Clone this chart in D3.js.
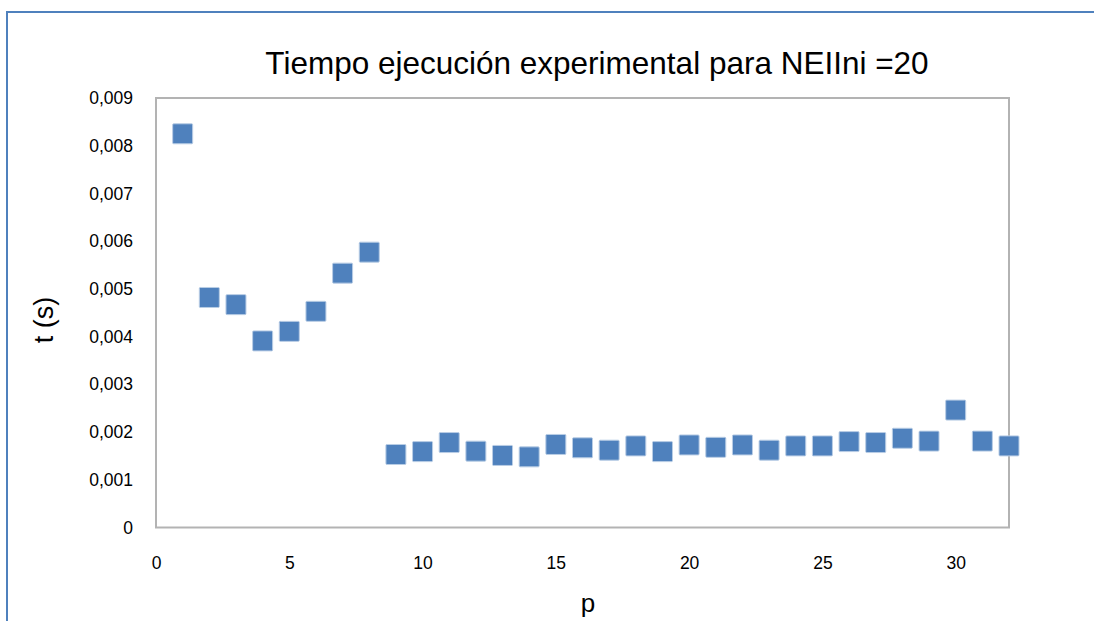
<!DOCTYPE html>
<html>
<head>
<meta charset="utf-8">
<script src="https://cdn.jsdelivr.net/npm/d3@7"></script>
<style>
  html, body { margin: 0; padding: 0; background: #fff; }
  svg { display: block; }
  text { font-family: "Liberation Sans", Arial, sans-serif; fill: #000; }
</style>
</head>
<body>
<svg id="chart" width="1094" height="621"></svg>
<script>
// Execution time per p
const pValues = [1, 2, 3, 4, 5, 6, 7, 8, 9, 10, 11, 12, 13, 14, 15, 16,
                 17, 18, 19, 20, 21, 22, 23, 24, 25, 26, 27, 28, 29, 30, 31, 32];
const tValues = [0.00825, 0.00482, 0.00467, 0.00391, 0.00411, 0.00453, 0.00533, 0.00577,
                 0.00153, 0.00159, 0.00178, 0.00160, 0.00151, 0.00148, 0.00174, 0.00167,
                 0.00162, 0.00171, 0.00159, 0.00173, 0.00168, 0.00173, 0.00162, 0.00171,
                 0.00171, 0.00180, 0.00178, 0.00187, 0.00181, 0.00246, 0.00181, 0.00171];
const xTicks = [0, 5, 10, 15, 20, 25, 30];
const yTicks = [0, 0.001, 0.002, 0.003, 0.004, 0.005, 0.006, 0.007, 0.008, 0.009];

const titleText = "Tiempo ejecución experimental para NEIIni =20";
const xLabel = "p";
const yLabel = "t (s)";

const svg = d3.select("#chart");
const plot = { left: 156, right: 1009, top: 98, bottom: 527.5 };

// Outer chart frame
svg.append("rect")
  .attr("x", 7).attr("y", 12)
  .attr("width", 1200).attr("height", 800)
  .attr("fill", "none")
  .attr("stroke", "#4f81bd")
  .attr("stroke-width", 2);

const x = d3.scaleLinear().domain([0, 32]).range([plot.left, plot.right]);
const y = d3.scaleLinear().domain([0, 0.009]).range([plot.bottom, plot.top]);

const fmt = v => v === 0 ? "0" : d3.format(".3f")(v).replace(".", ",");

// Plot area frame
svg.append("rect")
  .attr("x", plot.left).attr("y", plot.top)
  .attr("width", plot.right - plot.left).attr("height", plot.bottom - plot.top)
  .attr("fill", "#fff")
  .attr("stroke", "#b3b3b3")
  .attr("stroke-width", 2);

// Y axis
const yAxis = d3.axisLeft(y).tickValues(yTicks).tickFormat(fmt).tickSize(0).tickPadding(23);
const gy = svg.append("g").attr("transform", `translate(${plot.left},0)`).call(yAxis);
gy.select(".domain").remove();
gy.attr("font-size", null).attr("font-family", null);
gy.selectAll("text").style("font-size", "17.5px").style("font-family", "Liberation Sans, Arial, sans-serif").attr("fill", "#000");

// X axis
const xAxis = d3.axisBottom(x).tickValues(xTicks).tickFormat(d3.format("d")).tickSize(0).tickPadding(29);
const gx = svg.append("g").attr("transform", `translate(0,${plot.bottom})`).call(xAxis);
gx.select(".domain").remove();
gx.attr("font-size", null).attr("font-family", null);
gx.selectAll("text").style("font-size", "17.5px").style("font-family", "Liberation Sans, Arial, sans-serif").attr("fill", "#000");

// Markers
const size = 20;
svg.append("g").selectAll("rect.pt")
  .data(pValues.map((p, i) => ({ p, t: tValues[i] })))
  .join("rect")
  .attr("class", "pt")
  .attr("x", d => x(d.p) - size / 2)
  .attr("y", d => y(d.t) - size / 2)
  .attr("width", size).attr("height", size)
  .attr("rx", 1)
  .attr("fill", "#4f81bd")
  .attr("stroke", "#b9cde5")
  .attr("stroke-width", 1);

// Title and axis labels
svg.append("text")
  .attr("x", 597).attr("y", 74)
  .attr("text-anchor", "middle")
  .style("font-size", "31.5px")
  .text(titleText);

svg.append("text")
  .attr("x", 588).attr("y", 612)
  .attr("text-anchor", "middle")
  .style("font-size", "26px")
  .text(xLabel);

svg.append("text")
  .attr("transform", "translate(53,320) rotate(-90)")
  .attr("text-anchor", "middle")
  .style("font-size", "27px")
  .text(yLabel);
</script>
</body>
</html>
